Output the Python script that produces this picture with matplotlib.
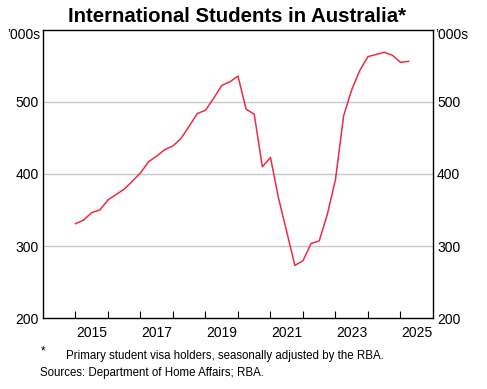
import numpy as np
import matplotlib
matplotlib.use("Agg")
import matplotlib.pyplot as plt
from matplotlib.ticker import FixedLocator, NullFormatter

plt.rcParams['font.family'] = ['Liberation Sans', 'DejaVu Sans']

# quarterly data, '000s
start_year = 2015.0
students = [331, 336, 346.5, 350, 364, 371.5, 379, 390,
            401.5, 417, 425, 434, 439, 449.5, 466.5, 484,
            488.5, 505, 523, 528, 536, 490, 483, 410,
            423, 366, 320, 273, 279.5, 303.5, 307, 344,
            392, 480.5, 517, 544, 563, 566, 569, 565,
            555, 556.5]
year_labels = ['2015', '2017', '2019', '2021', '2023', '2025']
y_ticks = [200, 300, 400, 500, 600]

dates = start_year + 0.25 * np.arange(len(students))

fig = plt.figure(figsize=(4.87, 3.89), dpi=100)
ax = fig.add_axes([0.0883, 0.1825, 0.8007, 0.7404])

ax.plot(dates, students, color='#ee2b45', lw=1.1)

ax.set_xlim(2014, 2026)
ax.set_ylim(200, 600)

# gridlines
for v in [300, 400, 500]:
    ax.axhline(v, color='#c8c8c8', lw=1.0, zorder=0)

# x ticks: marks at year boundaries, labels mid-year
ax.xaxis.set_major_locator(FixedLocator(np.arange(2015, 2026)))
ax.xaxis.set_major_formatter(NullFormatter())
ax.xaxis.set_minor_locator(FixedLocator([int(y) + 0.5 for y in year_labels]))
ax.set_xticklabels(year_labels, minor=True)
ax.tick_params(axis='x', which='major', direction='in', length=5, width=0.8)
ax.tick_params(axis='x', which='minor', length=0, labelsize=10, pad=6)

ax.set_yticks(y_ticks)
ax.set_yticklabels(['200', '300', '400', '500', ''])
ax.tick_params(axis='y', which='both', length=0, labelsize=10,
               left=True, right=True, labelleft=True, labelright=True, pad=3)

for s in ax.spines.values():
    s.set_linewidth(1.0)

fig.text(0.487, 0.957, 'International Students in Australia*', ha='center', va='center',
         fontsize=14.7, fontweight='bold')
fig.text(0.083, 0.91, "\u2019000s", ha='right', va='center', fontsize=10)
fig.text(0.893, 0.91, "\u2019000s", ha='left', va='center', fontsize=10)

fig.text(0.083, 0.097, '*', ha='left', va='center', fontsize=8.3)
fig.text(0.136, 0.085, 'Primary student visa holders, seasonally adjusted by the RBA.',
         ha='left', va='center', fontsize=8.3)
fig.text(0.083, 0.04, 'Sources: Department of Home Affairs; RBA.',
         ha='left', va='center', fontsize=8.3)

fig.savefig('out.png', dpi=100)
